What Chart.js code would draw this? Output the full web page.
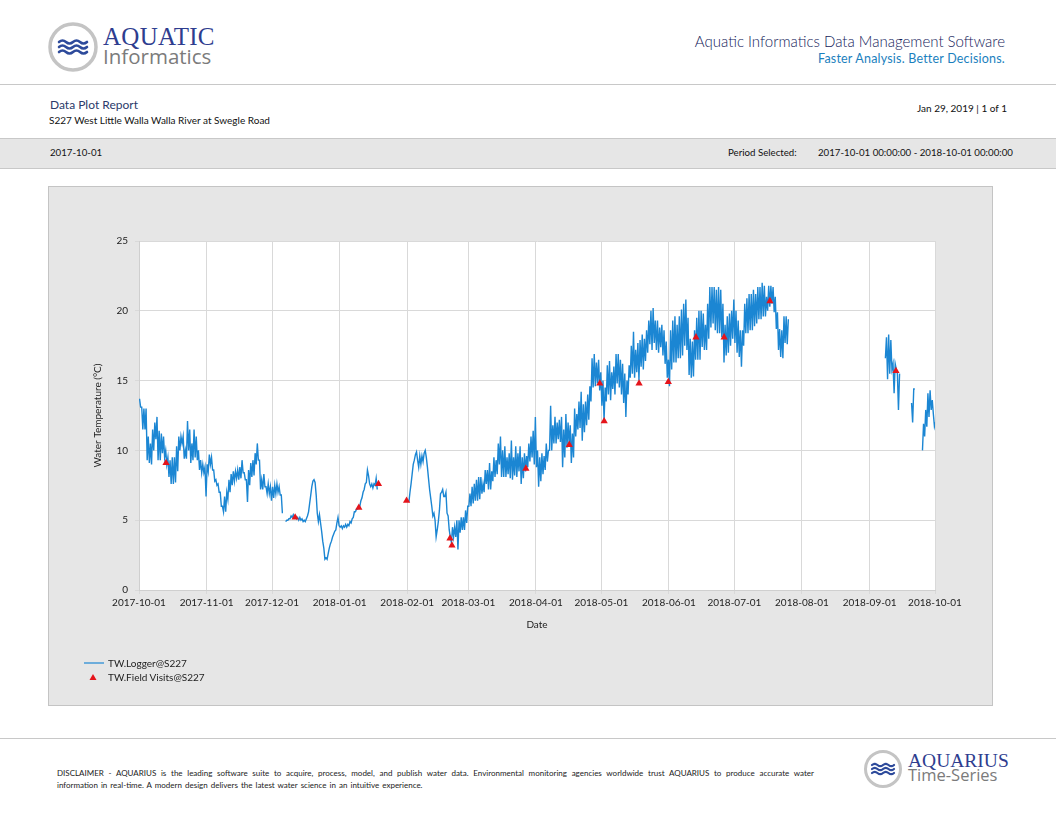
<!DOCTYPE html>
<html>
<head>
<meta charset="utf-8">
<title>Data Plot Report</title>
<script src="https://cdn.jsdelivr.net/npm/chart.js@4.4.1/dist/chart.umd.min.js"></script>
<style>
  html, body { margin: 0; padding: 0; background: #fff; }
  body { width: 1056px; height: 816px; position: relative; overflow: hidden; font-family: Lato, "Open Sans", sans-serif; color: #222; }
  .t { position: absolute; white-space: nowrap; line-height: 1; }
  .rule { position: absolute; left: 0; width: 1056px; height: 0; border-top: 1px solid #c8c8c8; }
  #band { position: absolute; left: 0; top: 138px; width: 1056px; height: 29px; background: #e6e6e6; border-top: 1px solid #c8c8c8; border-bottom: 1px solid #c8c8c8; }
  #panel { position: absolute; left: 48px; top: 186px; width: 945px; height: 520px; box-sizing: border-box; border: 1px solid #c4c4c4; background: #e6e6e6; }
  #panel canvas { display: block; }
</style>
</head>
<body>

<!-- header -->
<svg class="t" style="left:47px;top:21px" width="52" height="52" viewBox="0 0 52 52">
  <circle cx="26" cy="26" r="23" fill="#fff" stroke="#c4c4c4" stroke-width="3.5"/>
  <g fill="none" stroke="#2d4a9b" stroke-width="2.6" stroke-linecap="round">
    <path d="M12 21 q3.5 -3 7 0 t7 0 t7 0 t7 0"/>
    <path d="M12 26 q3.5 -3 7 0 t7 0 t7 0 t7 0"/>
    <path d="M12 31 q3.5 -3 7 0 t7 0 t7 0 t7 0"/>
  </g>
</svg>
<div class="t" style="left:103px;top:24px;font-family:'Liberation Serif',serif;font-size:25px;color:#2e3d8f;letter-spacing:0.3px">AQUATIC</div>
<div class="t" style="left:103px;top:46px;font-family:'Open Sans',sans-serif;font-size:20.5px;color:#7b7b7b">Informatics</div>

<div class="t" style="right:51px;top:34px;font-size:15px;font-weight:300;color:#14225a">Aquatic Informatics Data Management Software</div>
<div class="t" style="right:51px;top:53px;font-size:12.5px;color:#1b7fbe;letter-spacing:0.2px">Faster Analysis. Better Decisions.</div>

<div class="rule" style="top:84px"></div>

<div class="t" style="left:50px;top:99px;font-size:12px;color:#2b3a6a">Data Plot Report</div>
<div class="t" style="left:49px;top:115px;font-size:10px;color:#111">S227 West Little Walla Walla River at Swegle Road</div>
<div class="t" style="right:49px;top:103px;font-size:10px;color:#111">Jan 29, 2019 | 1 of 1</div>

<div id="band"></div>
<div class="t" style="left:50px;top:148px;font-size:9.7px;color:#111">2017-10-01</div>
<div class="t" style="left:728px;top:148px;font-size:9.7px;color:#111">Period Selected:</div>
<div class="t" style="left:818px;top:148px;font-size:9.7px;color:#111">2017-10-01 00:00:00 - 2018-10-01 00:00:00</div>

<!-- chart -->
<div id="panel"><canvas id="plot" width="943" height="518"></canvas></div>

<!-- legend -->
<svg class="t" style="left:84px;top:657px" width="24" height="26">
  <line x1="0" y1="6" x2="20" y2="6" stroke="#1b86d3" stroke-width="1.2"/>
  <path d="M9 17 L12.5 23 L5.5 23 Z" fill="#e5141b"/>
</svg>
<div class="t" style="left:108px;top:658px;font-size:10px;color:#222">TW.Logger@S227</div>
<div class="t" style="left:108px;top:672px;font-size:10px;color:#222">TW.Field Visits@S227</div>

<div class="rule" style="top:738px"></div>

<!-- footer -->
<div class="t" style="left:57px;top:769px;width:757px;font-size:8px;color:#222;white-space:normal;text-align:justify;text-align-last:justify">DISCLAIMER - AQUARIUS is the leading software suite to acquire, process, model, and publish water data. Environmental monitoring agencies worldwide trust AQUARIUS to produce accurate water</div>
<div class="t" style="left:57px;top:781px;font-size:8px;color:#222;word-spacing:1px">information in real-time. A modern design delivers the latest water science in an intuitive experience.</div>

<svg class="t" style="left:863px;top:749px" width="40" height="40" viewBox="0 0 40 40">
  <circle cx="20" cy="20" r="17.5" fill="#fff" stroke="#c4c4c4" stroke-width="3"/>
  <g fill="none" stroke="#2d4a9b" stroke-width="2.2" stroke-linecap="round">
    <path d="M9 16 q2.75 -2.4 5.5 0 t5.5 0 t5.5 0 t5.5 0"/>
    <path d="M9 20 q2.75 -2.4 5.5 0 t5.5 0 t5.5 0 t5.5 0"/>
    <path d="M9 24 q2.75 -2.4 5.5 0 t5.5 0 t5.5 0 t5.5 0"/>
  </g>
</svg>
<div class="t" style="left:908px;top:751px;font-family:'Liberation Serif',serif;font-size:19.5px;color:#2e3d8f">AQUARIUS</div>
<div class="t" style="left:908px;top:767px;font-family:'Open Sans',sans-serif;font-size:16.5px;color:#7b7b7b">Time-Series</div>

<script>
// logger readings, two per day (morning, afternoon); index 0 = 2017-10-01, null = no data
const loggerMorning = [
  13.7, 13.1, 13.0, 13.0, 11.0, 10.5, 11.5, 12.0, 12.4, 11.4,
  11.2, 11.0, 10.0, 9.5, 9.3, 9.5, 9.5, 10.3, 11.0, 11.0,
  11.0, 10.0, 12.1, 11.5, 10.5, 11.5, 11.0, 10.0, 9.3, 9.0,
  8.8, 9.0, 9.7, 9.5, 8.6, 7.9, 7.6, 7.0, 6.0, 6.7,
  7.0, 7.9, 8.3, 8.5, 8.5, 8.6, 8.8, 9.3, 8.4, 7.9,
  8.6, 9.1, 9.3, 9.8, 10.5, 9.3, 7.9, 8.3, 7.4, 7.6,
  7.4, 7.4, 7.5, 7.6, 7.4, 6.8, null, 4.9, 5.0, 5.1,
  5.2, 5.2, 5.1, 5.0, 5.0, 4.9, 4.9, 5.3, 6.2, 7.4,
  7.9, 6.8, 4.9, 4.8, 3.5, 2.2, 2.2, 3.0, 3.5, 4.0,
  4.3, 5.2, 4.5, 4.4, 4.5, 4.5, 4.6, 4.8, 5.2, 5.6,
  5.8, 6.0, 6.6, 7.2, 7.7, 8.2, 7.4, 7.3, 7.5, 7.2,
  null, null, null, null, null, null, null, null, null, null,
  null, null, null, null, 7.0, 8.3, 9.3, 9.9, 8.8, 9.0,
  9.2, 10.0, 8.8, 7.2, 6.0, 5.5, 3.8, 4.9, 6.9, 7.2,
  6.7, 5.5, 4.3, 3.4, 3.8, 3.8, 2.9, 4.1, 4.3, 4.3,
  4.8, 6.0, 6.0, 6.2, 6.4, 6.4, 6.5, 6.9, 7.0, 7.6,
  7.2, 7.2, 7.8, 8.1, 8.3, 9.0, 8.1, 8.1, 8.1, 8.3,
  8.0, 7.9, 8.2, 8.1, 8.5, 7.6, 8.0, 8.5, 8.8, 9.2,
  9.5, 9.0, 8.8, 7.4, 7.8, 8.3, 8.6, 9.2, 10.0, 10.0,
  10.5, 10.5, 10.8, 10.6, 8.8, 9.5, 10.2, 10.4, 9.1, 9.5,
  11.0, 11.5, 11.6, 10.7, 11.3, 11.8, 12.2, 13.5, 14.5, 14.6,
  14.8, 14.3, 13.2, 12.1, 13.5, 14.0, 13.6, 14.4, 14.0, 14.8,
  14.5, 14.0, 13.4, 12.4, 14.0, 15.2, 15.5, 15.2, 15.6, 15.0,
  16.0, 15.8, 16.4, 17.0, 17.6, 17.2, 17.7, 17.2, 17.0, 17.4,
  16.8, 16.2, 15.2, 14.6, 15.8, 16.3, 16.3, 16.6, 16.6, 16.8,
  17.5, 17.2, 15.4, 15.2, 15.3, 16.5, 16.5, 16.5, 17.4, 17.2,
  17.2, 18.0, 18.8, 19.1, 18.6, 18.4, 18.4, 18.1, 16.3, 16.8,
  17.0, 17.5, 18.0, 17.7, 17.0, 16.7, 16.0, 17.5, 18.4, 18.4,
  18.6, 18.6, 18.9, 19.1, 19.4, 19.4, 19.6, 19.6, 20.0, 20.3,
  20.5, 19.9, 18.7, 17.2, 16.7, 16.6, 17.7, 17.6, null, null,
  null, null, null, null, null, null, null, null, null, null,
  null, null, null, null, null, null, null, null, null, null,
  null, null, null, null, null, null, null, null, null, null,
  null, null, null, null, null, null, null, null, null, null,
  null, null, 16.6, 15.1, 15.5, 15.8, 14.1, 15.8, 12.9, null,
  null, null, null, null, 13.4, 14.4, null, null, null, 10.0,
  11.0, 11.7, 12.4, 12.9, 12.6, 12.0
];

const loggerAfternoon = [
  13.1, 11.5, 11.5, 9.3, 9.1, 9.0, 10.0, 10.8, 9.3, 9.3,
  9.8, 9.5, 9.0, 8.1, 7.6, 7.6, 7.7, 8.5, 10.0, 10.5,
  9.4, 9.4, 10.0, 9.1, 9.3, 9.5, 9.3, 8.6, 8.4, 8.4,
  6.7, 8.5, 9.0, 8.6, 7.8, 7.5, 7.0, 6.0, 5.6, 5.6,
  6.5, 7.0, 7.5, 7.8, 8.0, 7.9, 8.0, 8.4, 7.9, 6.3,
  7.5, 8.1, 8.2, 9.0, 9.3, 7.2, 7.2, 7.4, 6.9, 6.9,
  6.4, 6.6, 6.9, 7.0, 6.8, 5.5, null, 5.0, 5.1, 5.3,
  5.4, 5.3, 5.2, 5.2, 5.1, 5.0, 5.1, 5.6, 6.8, 7.8,
  7.7, 5.5, 5.4, 4.2, 3.0, 2.3, 2.6, 3.3, 3.8, 4.2,
  4.8, 4.6, 4.6, 4.6, 4.7, 4.7, 4.9, 5.1, 5.6, 5.8,
  6.0, 6.4, 7.0, 7.6, 8.6, 7.6, 7.6, 7.6, 8.0, null,
  null, null, null, null, null, null, null, null, null, null,
  null, null, null, 6.3, 7.6, 9.0, 9.7, 9.3, 9.6, 9.6,
  9.8, 9.5, 8.0, 6.6, 5.3, 5.0, 4.3, 5.7, 7.0, 6.7,
  7.0, 5.3, 3.8, 4.5, 4.5, 5.0, 5.0, 5.2, 5.2, 5.7,
  6.0, 6.9, 7.4, 7.6, 7.9, 8.1, 8.1, 7.6, 8.6, 8.6,
  9.1, 8.5, 9.5, 9.3, 10.5, 11.0, 10.0, 10.3, 9.5, 9.8,
  10.7, 9.5, 10.3, 9.8, 10.3, 9.5, 9.8, 9.6, 10.5, 11.0,
  11.4, 12.4, 10.0, 9.5, 9.8, 9.6, 10.5, 10.0, 13.2, 11.8,
  12.4, 12.0, 12.2, 12.4, 11.5, 12.6, 12.0, 11.8, 11.2, 13.0,
  12.6, 13.5, 14.2, 13.3, 13.5, 14.0, 14.6, 16.6, 16.9, 16.3,
  16.5, 15.6, 15.0, 14.5, 16.1, 16.4, 15.6, 16.0, 16.9, 16.9,
  16.5, 16.2, 15.5, 15.0, 16.1, 17.5, 18.5, 17.2, 17.7, 17.9,
  18.3, 18.0, 18.6, 19.3, 20.0, 20.2, 19.3, 19.3, 18.8, 19.0,
  18.6, 17.8, 16.5, 18.6, 19.3, 19.6, 19.0, 19.6, 20.1, 20.5,
  20.8, 19.5, 18.0, 17.8, 18.6, 19.5, 20.0, 20.0, 19.8, 19.0,
  20.5, 21.7, 21.7, 21.7, 21.5, 21.7, 21.5, 20.5, 19.0, 19.6,
  19.8, 20.0, 20.8, 20.0, 19.3, 18.6, 18.6, 20.5, 20.9, 21.2,
  21.2, 21.5, 21.2, 21.7, 21.7, 22.0, 21.8, 21.0, 21.8, 21.8,
  21.7, 21.0, 19.9, 18.7, 18.6, 19.6, 19.6, 19.4, null, null,
  null, null, null, null, null, null, null, null, null, null,
  null, null, null, null, null, null, null, null, null, null,
  null, null, null, null, null, null, null, null, null, null,
  null, null, null, null, null, null, null, null, null, null,
  null, null, 18.1, 18.3, 17.9, 16.2, 16.2, 15.5, 15.5, null,
  null, null, null, null, 12.0, 14.4, null, null, null, 11.9,
  12.9, 14.1, 14.3, 13.6, 11.7, null
];

// field visits: day since 2017-10-01 and measured temperature
const visitDays  = [12.4, 71.6, 100.8, 109.8, 122.7, 142.6, 143.5, 177.4, 197.3, 211.3, 213.3, 229.3, 242.7, 255.4, 268.3, 289.3, 347.1];
const visitTemps = [9.1, 5.2, 5.9, 7.6, 6.4, 3.7, 3.2, 8.7, 10.4, 14.8, 12.1, 14.8, 14.9, 18.1, 18.1, 20.7, 15.7];

const monthTickDays   = [0, 31, 61, 92, 123, 151, 182, 212, 243, 273, 304, 335, 365];
const monthTickLabels = ['2017-10-01', '2017-11-01', '2017-12-01', '2018-01-01', '2018-02-01', '2018-03-01',
                         '2018-04-01', '2018-05-01', '2018-06-01', '2018-07-01', '2018-08-01', '2018-09-01', '2018-10-01'];

const loggerPoints = [];
loggerMorning.forEach((v, i) => {
  loggerPoints.push({ x: i + 0.25, y: v });
  loggerPoints.push({ x: i + 0.75, y: loggerAfternoon[i] });
});
const visitPoints = visitDays.map((d, i) => ({ x: d, y: visitTemps[i] }));

Chart.defaults.font.family = 'Lato, "Open Sans", sans-serif';
Chart.defaults.font.size = 10;
Chart.defaults.color = '#222';

// white plotting area on the grey panel
const plotBackground = {
  id: 'plotBackground',
  beforeDraw(chart) {
    const { ctx, chartArea } = chart;
    ctx.save();
    ctx.fillStyle = '#ffffff';
    ctx.fillRect(chartArea.left, chartArea.top, chartArea.width, chartArea.height);
    ctx.restore();
  }
};

new Chart(document.getElementById('plot'), {
  type: 'scatter',
  data: {
    datasets: [
      {
        label: 'TW.Field Visits@S227',
        data: visitPoints,
        pointStyle: 'triangle',
        pointRadius: 4.2,
        backgroundColor: '#e5141b',
        borderColor: '#e5141b',
        borderWidth: 0
      },
      {
        label: 'TW.Logger@S227',
        data: loggerPoints,
        showLine: true,
        spanGaps: false,
        pointRadius: 0,
        borderColor: '#1b86d3',
        borderWidth: 1.4,
        tension: 0
      }
    ]
  },
  options: {
    responsive: false,
    animation: false,
    layout: { padding: { left: 39, top: 54, right: 57, bottom: 59 } },
    plugins: {
      legend: { display: false },
      tooltip: { enabled: false }
    },
    scales: {
      x: {
        type: 'linear',
        min: 0,
        max: 365,
        afterBuildTicks: (axis) => { axis.ticks = monthTickDays.map(v => ({ value: v })); },
        afterFit: (scale) => { scale.height = 56; },
        ticks: {
          autoSkip: false,
          maxRotation: 0,
          padding: 3,
          callback: (value, index) => monthTickLabels[index]
        },
        grid: { color: '#d9d9d9', tickLength: 4 },
        border: { color: '#cfcfcf' },
        title: { display: true, text: 'Date', font: { size: 10 }, padding: { top: 0, bottom: 15 } }
      },
      y: {
        min: 0,
        max: 25,
        afterFit: (scale) => { scale.width = 51; },
        ticks: { stepSize: 5, padding: 7 },
        grid: { color: '#d9d9d9', tickLength: 4 },
        border: { color: '#cfcfcf' },
        title: { display: true, text: 'Water Temperature (°C)', font: { size: 10 }, padding: { top: 4, bottom: 0 } }
      }
    }
  },
  plugins: [plotBackground]
});
</script>
</body>
</html>
